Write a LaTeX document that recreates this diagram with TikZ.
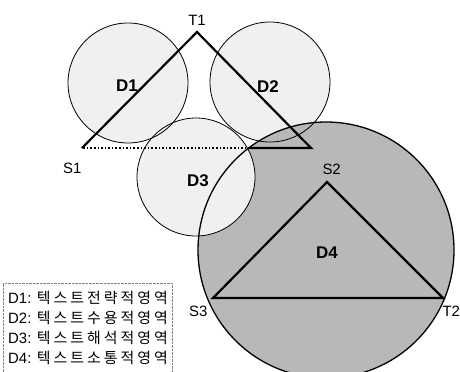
\documentclass[tikz,border=0pt]{standalone}
\usepackage{fontspec}
\setmainfont{Liberation Sans}
\newfontfamily\krfont[LetterSpace=20]{Noto Sans CJK KR}
\usetikzlibrary{positioning}
\definecolor{paleshade}{gray}{0.94}
\definecolor{darkshade}{gray}{0.72}

\begin{document}
\begin{tikzpicture}[x=1bp,y=-1bp,font=\fontsize{15}{17}\selectfont,
  rim/.style={draw,line width=0.8bp},
  bigrim/.style={draw,line width=1.3bp},
  side/.style={line width=2.2bp,line join=miter},
  dotside/.style={line width=1.6bp,dotted},
  dname/.style={font=\fontsize{17}{19}\selectfont\bfseries},
  legline/.style={anchor=west,inner sep=0pt}]
\useasboundingbox (0,0) rectangle (460,371);
% shaded regions
\fill[paleshade] (128,83) circle (60);
\fill[paleshade] (270,82) circle (60);
\fill[darkshade] (326,250) circle (128);
\fill[paleshade] (196,177) circle (59);
\path[rim] (128,83) circle (60);
\path[rim] (270,82) circle (60);
\path[bigrim] (326,250) circle (128);
\path[rim] (196,177) circle (59);
% upper triangle
\coordinate (t1) at (197,32);
\coordinate (s1) at (82,148);
\coordinate (r1) at (311,148);
\coordinate (cut) at (250,148);
\draw[side] (s1) -- (t1) -- (r1) -- (cut);
\draw[dotside] (cut) -- (s1);
% lower triangle
\coordinate (s2) at (327,182);
\coordinate (s3) at (213,298);
\coordinate (t2) at (443,298);
\draw[side] (s2) -- (t2) -- (s3) -- cycle;
% vertex names
\node[above=3bp of t1] (t1lab) {T1};
\node[below left=12bp and -3bp of s1] (s1lab) {S1};
\node[above right=4bp and -8bp of s2] (s2lab) {S2};
\node[below left=5bp and 2bp of s3] (s3lab) {S3};
\node[below right=5bp and -4bp of t2] (t2lab) {T2};
% region names
\node[dname] (d1) at (127,86) {D1};
\node[dname] (d2) at (268,87) {D2};
\node[dname] (d3) at (198,181) {D3};
\node[dname] (d4) at (327,253) {D4};
% legend
\draw[gray,densely dotted] (3,376) -- (3,283) -- (172,283) -- (172,376);
\node[legline] (leg1) at (8,298) {D1: {\krfont 텍스트전략적영역}};
\node[legline] (leg2) at (8,318) {D2: {\krfont 텍스트수용적영역}};
\node[legline] (leg3) at (8,338) {D3: {\krfont 텍스트해석적영역}};
\node[legline] (leg4) at (8,358) {D4: {\krfont 텍스트소통적영역}};
\end{tikzpicture}
\end{document}
